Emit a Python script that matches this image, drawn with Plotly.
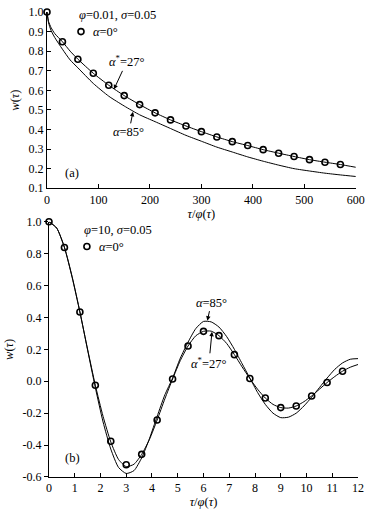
import plotly.graph_objects as go

# ── Data ──────────────────────────────────────────────────────────────────────
# (a) phi=0.01, sigma=0.05
X_A_MARK = [0, 30, 60, 90, 120, 150, 180, 210, 240, 270, 300, 330, 360, 390,
            420, 450, 480, 510, 540, 570]
W_A_MARK = [1.0, 0.848, 0.759, 0.687, 0.626, 0.573, 0.527, 0.485, 0.449, 0.418,
            0.389, 0.362, 0.338, 0.318, 0.297, 0.279, 0.262, 0.246, 0.233, 0.221]

X_A_CURVE = [0, 3, 8, 15, 30, 45, 60, 90, 120, 150, 180, 210, 240, 270, 300,
             330, 360, 390, 420, 450, 480, 510, 540, 570, 600]
W_A_27 = [1.0, 0.952, 0.92, 0.89, 0.848, 0.8, 0.759, 0.687, 0.626, 0.573, 0.527,
          0.485, 0.449, 0.418, 0.389, 0.362, 0.338, 0.318, 0.297, 0.279, 0.262,
          0.246, 0.233, 0.221, 0.207]
W_A_85 = [1.0, 0.945, 0.905, 0.87, 0.81, 0.755, 0.715, 0.635, 0.57, 0.52, 0.475,
          0.44, 0.405, 0.37, 0.34, 0.31, 0.285, 0.26, 0.238, 0.218, 0.2, 0.188,
          0.177, 0.168, 0.16]

# (b) phi=10, sigma=0.05
X_B_MARK = [0, 0.6, 1.2, 1.8, 2.4, 3.0, 3.6, 4.2, 4.8, 5.4, 6.0, 6.6, 7.2, 7.8,
            8.4, 9.0, 9.6, 10.2, 10.8, 11.4]
W_B_MARK = [1.0, 0.838, 0.434, -0.025, -0.376, -0.523, -0.458, -0.243, 0.014,
            0.221, 0.313, 0.286, 0.167, 0.017, -0.105, -0.165, -0.155, -0.092,
            -0.008, 0.063]

X_B_CURVE = [0, 0.3, 0.6, 0.9, 1.2, 1.5, 1.8, 2.1, 2.4, 2.7, 3.0, 3.3, 3.6, 3.9,
             4.2, 4.5, 4.8, 5.1, 5.4, 5.7, 6.0, 6.3, 6.6, 6.9, 7.2, 7.5, 7.8,
             8.1, 8.4, 8.7, 9.0, 9.3, 9.6, 9.9, 10.2, 10.5, 10.8, 11.1, 11.4,
             11.7, 12.0]
W_B_27 = [1.0, 0.96, 0.838, 0.65, 0.434, 0.2, -0.025, -0.22, -0.38, -0.49,
          -0.535, -0.52, -0.458, -0.365, -0.243, -0.11, 0.014, 0.13, 0.221,
          0.285, 0.313, 0.314, 0.286, 0.237, 0.167, 0.09, 0.017, -0.05, -0.105,
          -0.145, -0.165, -0.168, -0.155, -0.128, -0.092, -0.05, -0.008, 0.03,
          0.063, 0.088, 0.105]
W_B_85 = [1.0, 0.96, 0.84, 0.655, 0.435, 0.195, -0.04, -0.255, -0.425, -0.54,
          -0.578, -0.56, -0.48, -0.36, -0.22, -0.085, 0.02, 0.145, 0.245, 0.33,
          0.375, 0.372, 0.34, 0.28, 0.2, 0.11, 0.02, -0.07, -0.145, -0.2, -0.228,
          -0.225, -0.2, -0.155, -0.1, -0.04, 0.02, 0.075, 0.115, 0.138, 0.142]

Y_B_TICKS = [-0.6, -0.4, -0.2, 0.0, 0.2, 0.4, 0.6, 0.8, 1.0]

FONT = "Liberation Serif"
TXT = dict(family=FONT, size=12.5, color="black")
LINE = dict(color="black", width=1, shape="spline", smoothing=0.6)
MARK = dict(symbol="circle-open", size=6, color="black", line=dict(width=1.6))

fig = go.Figure()

# ── (a) ──
for w in (W_A_27, W_A_85):
    fig.add_trace(go.Scatter(x=X_A_CURVE, y=w, mode="lines", line=LINE,
                             showlegend=False, xaxis="x", yaxis="y"))
fig.add_trace(go.Scatter(x=X_A_MARK, y=W_A_MARK, mode="markers", marker=MARK,
                         name=" ", legend="legend", cliponaxis=False,
                         xaxis="x", yaxis="y"))

# ── (b) ──
for w in (W_B_27, W_B_85):
    fig.add_trace(go.Scatter(x=X_B_CURVE, y=w, mode="lines", line=LINE,
                             showlegend=False, xaxis="x2", yaxis="y2"))
fig.add_trace(go.Scatter(x=X_B_MARK, y=W_B_MARK, mode="markers", marker=MARK,
                         name=" ", legend="legend2", cliponaxis=False,
                         xaxis="x2", yaxis="y2"))

axis_common = dict(showline=True, linecolor="black", linewidth=1, showgrid=False,
                   zeroline=False, ticklen=4, tickcolor="black", automargin=False,
                   tickfont=dict(family=FONT, size=12, color="black"))
xtitle = dict(text="<i>τ</i>/<i>φ</i>(<i>τ</i>)", font=TXT, standoff=2)
ytitle = dict(text="<i>w</i>(<i>τ</i>)", font=TXT, standoff=6)

leg_common = dict(font=TXT, bgcolor="rgba(0,0,0,0)", xanchor="left",
                  yanchor="middle", tracegroupgap=0, itemwidth=30)

arrow = dict(showarrow=True, arrowhead=2, arrowsize=0.9, arrowwidth=1,
             arrowcolor="black", font=TXT)
plain = dict(showarrow=False, font=TXT, xanchor="left", yanchor="middle",
             xref="paper", yref="paper")

fig.update_layout(
    width=378, height=510,
    margin=dict(l=47, r=20, t=12, b=33),
    plot_bgcolor="white", paper_bgcolor="white",
    xaxis=dict(domain=[0, 0.993], range=[0, 600], dtick=100, ticks="inside",
               title=xtitle, anchor="y", **axis_common),
    yaxis=dict(domain=[0.621, 1.0], range=[0.1, 1.0], dtick=0.1,
               tickformat=".1f", ticks="inside", title=ytitle, anchor="x",
               **axis_common),
    xaxis2=dict(domain=[0.0064, 1.0], range=[0, 12], dtick=1, ticks="inside",
                title=xtitle, anchor="y2", **axis_common),
    yaxis2=dict(domain=[0, 0.549], range=[-0.6, 1.0], tickvals=Y_B_TICKS,
                ticktext=[f"{v:.1f}" for v in Y_B_TICKS], ticks="outside",
                title=ytitle, anchor="x2", **axis_common),
    legend=dict(x=0.045, y=0.957, **leg_common),
    legend2=dict(x=0.064, y=0.495, **leg_common),
    annotations=[
        dict(x=0.097, y=0.9935, text="<i>φ</i>=0.01, <i>σ</i>=0.05", **plain),
        dict(x=0.141, y=0.957, text="<i>α</i>=0°", **plain),
        dict(x=130, y=0.605, xref="x", yref="y", ax=13, ay=-28,
             text="<i>α</i><sup>*</sup>=27°", **arrow),
        dict(x=167, y=0.49, xref="x", yref="y", ax=-4, ay=20,
             text="<i>α</i>=85°", **arrow),
        dict(x=49, y=0.179, xref="x", yref="y", text="(a)", showarrow=False,
             font=TXT),
        dict(x=0.113, y=0.531, text="<i>φ</i>=10, <i>σ</i>=0.05", **plain),
        dict(x=0.161, y=0.495, text="<i>α</i>=0°", **plain),
        dict(x=6.15, y=0.38, xref="x2", yref="y2", ax=4, ay=-18,
             text="<i>α</i>=85°", **arrow),
        dict(x=6.33, y=0.31, xref="x2", yref="y2", ax=-3, ay=31,
             text="<i>α</i><sup>*</sup>=27°", **arrow),
        dict(x=0.9, y=-0.483, xref="x2", yref="y2", text="(b)", showarrow=False,
             font=TXT),
    ],
)

# the page body has a default 8px margin; drop it so the figure sits at 0,0
fig.write_html("out.html", config={"displayModeBar": False},
               post_script="document.body.style.margin='0';")
